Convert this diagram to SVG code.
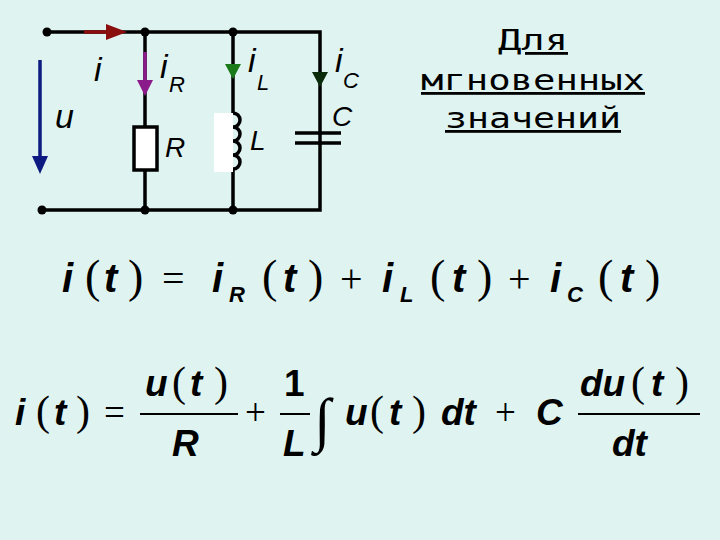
<svg xmlns="http://www.w3.org/2000/svg" width="720" height="540" viewBox="0 0 720 540">
<style>
.w{stroke:#000;stroke-width:3.5;fill:none}
.it{font-family:"Liberation Sans",Arial,sans-serif;font-style:italic;fill:#000}
.eq{font-family:"Liberation Sans",Arial,sans-serif;font-style:italic;font-weight:bold;fill:#000}
.op{font-family:"Liberation Serif",serif;fill:#000}
.t{font-family:"DejaVu Sans Mono","Liberation Mono",monospace;font-size:28px;fill:#000;text-decoration:underline}
</style>
<rect width="720" height="540" fill="#dff4f1"/>
<g id="wires">
<path class="w" d="M47 32H320V210H42M145 32V126M145 170V210M233 32V113M233 168V210M320 32V133M320 143V210"/>
</g>
<g id="nodes" fill="#000">
<circle cx="47" cy="32" r="4.5"/><circle cx="145" cy="32" r="4.5"/><circle cx="233" cy="32" r="4.5"/>
<circle cx="42" cy="210" r="4.5"/><circle cx="145" cy="210" r="4.5"/><circle cx="233" cy="210" r="4.5"/>
</g>
<g id="R"><rect x="134" y="127" width="23" height="43" fill="#fff" stroke="#000" stroke-width="3.5"/><text class="it" x="165" y="157" style="font-size:28px">R</text></g>
<g id="L"><rect x="214" y="113" width="19" height="59" fill="#fff"/>
<path class="w" d="M233 113a7 7 0 0 1 0 14a7 7 0 0 1 0 14a7 7 0 0 1 0 14a7 7 0 0 1 0 14"/>
<text class="it" x="250" y="150" style="font-size:28px">L</text></g>
<g id="C"><path class="w" d="M295 133H341M295 143H341"/><text class="it" x="332" y="126" style="font-size:28px">C</text></g>
<g id="arrows">
<path d="M84 32H108" stroke="#8b0e0e" stroke-width="3.5"/><path d="M106 24L127 32L106 40Z" fill="#8b0e0e"/>
<path d="M145 52V82" stroke="#8b1a8b" stroke-width="3.5"/><path d="M137 80L145 96L153 80Z" fill="#8b1a8b"/>
<path d="M225 64L233 79L241 64Z" fill="#1a7a1a"/>
<path d="M312 72L320 87L328 72Z" fill="#0a2a0a"/>
<path d="M40 60V158" stroke="#0d1a80" stroke-width="3.5"/><path d="M32 156L40 174L48 156Z" fill="#0d1a80"/>
</g>
<g id="labels" style="font-size:34px">
<text class="it" x="94" y="81">i</text>
<text class="it" x="160" y="78">i</text><text class="it" x="169" y="92" style="font-size:22px">R</text>
<text class="it" x="248" y="72">i</text><text class="it" x="257" y="90" style="font-size:22px">L</text>
<text class="it" x="335" y="72">i</text><text class="it" x="343" y="88" style="font-size:22px">C</text>
<text class="it" x="55" y="128">u</text>
</g>
<g id="title" text-anchor="middle">
<text class="t" x="533" y="50" textLength="70" lengthAdjust="spacingAndGlyphs">Для</text>
<text class="t" x="533" y="90" textLength="224" lengthAdjust="spacingAndGlyphs">мгновенных</text>
<text class="t" x="533" y="128" textLength="176" lengthAdjust="spacingAndGlyphs">значений</text>
</g>
<g id="eq1" style="font-size:40px">
<text class="eq" x="62" y="292">i</text><text class="op" x="85" y="292" style="font-size:46px">(</text><text class="eq" x="104" y="292">t</text><text class="op" x="128" y="292" style="font-size:46px">)</text>
<text class="op" x="162" y="292">=</text>
<text class="eq" x="212" y="292">i</text><text class="eq" x="229" y="302" style="font-size:22px">R</text><text class="op" x="262" y="292" style="font-size:46px">(</text><text class="eq" x="283" y="292">t</text><text class="op" x="308" y="292" style="font-size:46px">)</text>
<text class="op" x="340" y="292">+</text>
<text class="eq" x="382" y="292">i</text><text class="eq" x="400" y="302" style="font-size:22px">L</text><text class="op" x="430" y="292" style="font-size:46px">(</text><text class="eq" x="452" y="292">t</text><text class="op" x="477" y="292" style="font-size:46px">)</text>
<text class="op" x="508" y="292">+</text>
<text class="eq" x="550" y="292">i</text><text class="eq" x="567" y="302" style="font-size:22px">C</text><text class="op" x="598" y="292" style="font-size:46px">(</text><text class="eq" x="620" y="292">t</text><text class="op" x="645" y="292" style="font-size:46px">)</text>
</g>
<g id="eq2" style="font-size:37px">
<text class="eq" x="15" y="425">i</text><text class="op" x="36" y="425" style="font-size:42px">(</text><text class="eq" x="54" y="425">t</text><text class="op" x="76" y="425" style="font-size:42px">)</text>
<text class="op" x="104" y="425">=</text>
<text class="eq" x="145" y="396">u</text><text class="op" x="172" y="396" style="font-size:42px">(</text><text class="eq" x="190" y="396">t</text><text class="op" x="214" y="396" style="font-size:42px">)</text>
<path d="M140 414H238" stroke="#000" stroke-width="2"/>
<text class="eq" x="172" y="456">R</text>
<text class="op" x="245" y="425">+</text>
<text class="eq" x="284" y="396" style="font-style:normal">1</text>
<path d="M280 414H310" stroke="#000" stroke-width="2"/>
<text class="eq" x="283" y="456">L</text>
<text class="op" x="314" y="440" style="font-size:60px">∫</text>
<text class="eq" x="345" y="425">u</text><text class="op" x="370" y="425" style="font-size:42px">(</text><text class="eq" x="389" y="425">t</text><text class="op" x="412" y="425" style="font-size:42px">)</text>
<text class="eq" x="441" y="425">dt</text>
<text class="op" x="495" y="425">+</text>
<text class="eq" x="536" y="425">C</text>
<text class="eq" x="580" y="396">du</text><text class="op" x="631" y="396" style="font-size:42px">(</text><text class="eq" x="651" y="396">t</text><text class="op" x="675" y="396" style="font-size:42px">)</text>
<path d="M578 414H700" stroke="#000" stroke-width="2"/>
<text class="eq" x="612" y="456">dt</text>
</g>
</svg>
